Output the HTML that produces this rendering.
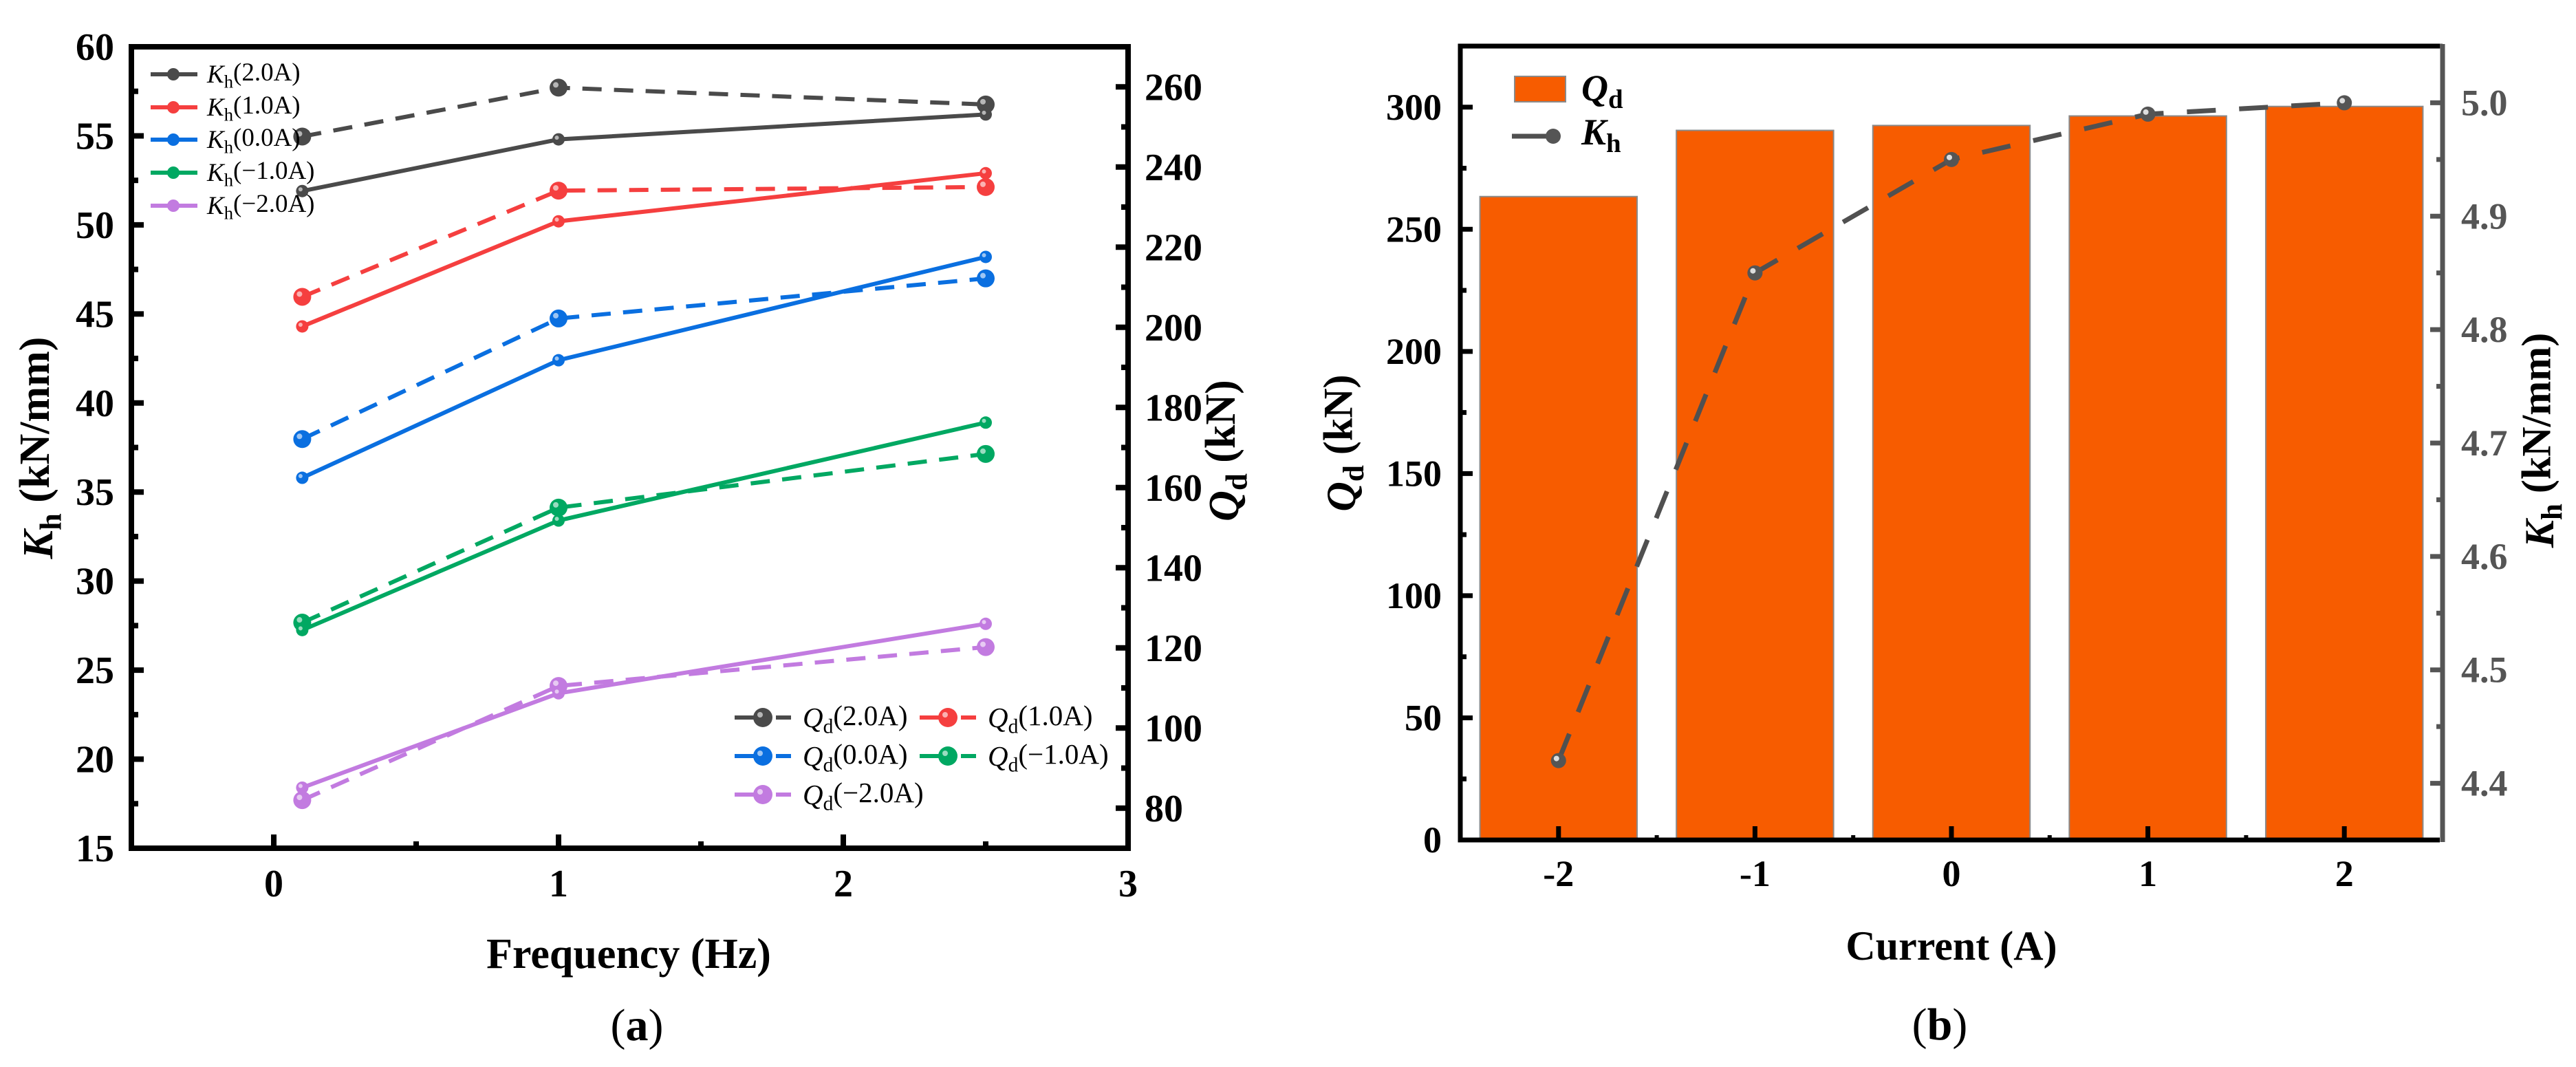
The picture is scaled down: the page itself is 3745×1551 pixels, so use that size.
<!DOCTYPE html>
<html><head><meta charset="utf-8"><style>
html,body{margin:0;padding:0;background:#fff;}
svg{display:block;}
text{font-family:"Liberation Serif",serif;}
</style></head><body>
<svg id="fig" width="3745" height="1551" viewBox="0 0 3745 1551" xmlns="http://www.w3.org/2000/svg">
<g id="pa"></g>
<g id="pb"></g>
</svg>
<script>
// ---------- Panel (a) data ----------
const freqs = [0.1, 1, 2.5];
const seriesNames = ["2.0A", "1.0A", "0.0A", "\u22121.0A", "\u22122.0A"];
const seriesColors = ["#4a4a4a", "#f53f3f", "#0a6fe0", "#00a862", "#c27be0"];
const khValues2 = [51.9, 54.8, 56.2];
const khValues1 = [44.3, 50.2, 52.9];
const khValues0 = [35.8, 42.4, 48.2];
const khValuesM1 = [27.25, 33.4, 38.9];
const khValuesM2 = [18.4, 23.7, 27.6];
const qdValues2 = [247.6, 259.8, 255.6];
const qdValues1 = [207.6, 234.1, 235.0];
const qdValues0 = [172.1, 202.2, 212.2];
const qdValuesM1 = [126.3, 155.0, 168.4];
const qdValuesM2 = [82.0, 110.5, 120.2];
const xTicksA = [0, 1, 2, 3];
const khTicks = [15, 20, 25, 30, 35, 40, 45, 50, 55, 60];
const qdTicksA = [80, 100, 120, 140, 160, 180, 200, 220, 240, 260];
// ---------- Panel (b) data ----------
const currents = ["-2", "-1", "0", "1", "2"];
const qdBars = [263.4, 290.5, 292.5, 296.4, 300.3];
const khLine = [4.42, 4.85, 4.95, 4.99, 5.0];
const qdTicksB = [0, 50, 100, 150, 200, 250, 300];
const khTicksB = [4.4, 4.5, 4.6, 4.7, 4.8, 4.9, 5.0];

const NS = "http://www.w3.org/2000/svg";
function mk(parent, tag, attrs, txt) {
  const e = document.createElementNS(NS, tag);
  for (const k in attrs) e.setAttribute(k, attrs[k]);
  if (txt !== undefined) e.textContent = txt;
  parent.appendChild(e);
  return e;
}
function sub(parent, main, subs, after, attrs, italicMain) {
  const t = mk(parent, "text", attrs);
  mk(t, "tspan", italicMain ? {"font-style": "italic"} : {}, main);
  mk(t, "tspan", {"dy": "0.28em", "font-size": "0.72em"}, subs);
  if (after) mk(t, "tspan", {"dy": "-0.28em"}, after);
  return t;
}

// ================= PANEL A =================
const pa = document.getElementById("pa");
const A = {l: 191, r: 1640, t: 68, b: 1233};
const xA = v => A.l + (v - (-0.5)) / 3.5 * (A.r - A.l);
const yK = v => A.b - (v - 15) / 45 * (A.b - A.t);
const yQ = v => A.b - (v - 70) / 200 * (A.b - A.t);

khTicks.forEach(v => {
  const y = yK(v);
  const tk = mk(pa, "line", {x1: A.l, x2: A.l + 18, y1: y, y2: y, stroke: "#000", "stroke-width": 8});
  
  
  if (v < 60) {
    const mt = mk(pa, "line", {x1: A.l, x2: A.l + 10, y1: yK(v + 2.5), y2: yK(v + 2.5), stroke: "#000", "stroke-width": 8});
    
    
  }
  const lb = mk(pa, "text", {x: 166, y: y + 19, "text-anchor": "end", "font-size": 56, "font-weight": "bold"}, String(v));
  
  
});
qdTicksA.forEach(v => {
  const y = yQ(v);
  const tk = mk(pa, "line", {x1: A.r - 18, x2: A.r, y1: y, y2: y, stroke: "#000", "stroke-width": 8});
  
  
  const mt = mk(pa, "line", {x1: A.r - 10, x2: A.r, y1: yQ(v + 10), y2: yQ(v + 10), stroke: "#000", "stroke-width": 8});
  
  
  const lb = mk(pa, "text", {x: 1664, y: y + 19, "text-anchor": "start", "font-size": 56, "font-weight": "bold"}, String(v));
  
  
});
xTicksA.forEach(v => {
  const x = xA(v);
  const tk = mk(pa, "line", {x1: x, x2: x, y1: A.b, y2: A.b - 20, stroke: "#000", "stroke-width": 8});
  
  
  const mx = xA(v - 0.5);
  const mt = mk(pa, "line", {x1: mx, x2: mx, y1: A.b, y2: A.b - 10, stroke: "#000", "stroke-width": 8});
  
  
  const lb = mk(pa, "text", {x: x, y: 1303, "text-anchor": "middle", "font-size": 56, "font-weight": "bold"}, String(v));
  
  
});

const khAll = [khValues2, khValues1, khValues0, khValuesM1, khValuesM2];
const qdAll = [qdValues2, qdValues1, qdValues0, qdValuesM1, qdValuesM2];
qdAll.forEach((vals, i) => {
  const pts = vals.map((v, j) => xA(freqs[j]) + "," + yQ(v)).join(" ");
  const pl = mk(pa, "polyline", {points: pts, fill: "none", stroke: seriesColors[i], "stroke-width": 6, "stroke-dasharray": "28 18"});
  
  
  vals.forEach((v, j) => {
    const c = mk(pa, "circle", {cx: xA(freqs[j]), cy: yQ(v), r: 13, fill: seriesColors[i]});
    
    
    mk(pa, "circle", {cx: xA(freqs[j]) - 4, cy: yQ(v) - 4, r: 4, fill: "#fff", opacity: 0.6});
  });
});
khAll.forEach((vals, i) => {
  const pts = vals.map((v, j) => xA(freqs[j]) + "," + yK(v)).join(" ");
  const pl = mk(pa, "polyline", {points: pts, fill: "none", stroke: seriesColors[i], "stroke-width": 6});
  
  
  vals.forEach((v, j) => {
    const c = mk(pa, "circle", {cx: xA(freqs[j]), cy: yK(v), r: 9, fill: seriesColors[i]});
    
    
    mk(pa, "circle", {cx: xA(freqs[j]) - 2.5, cy: yK(v) - 2.5, r: 3, fill: "#fff", opacity: 0.6});
  });
});
const fa = mk(pa, "rect", {x: A.l, y: A.t, width: A.r - A.l, height: A.b - A.t, fill: "none", stroke: "#000", "stroke-width": 8});



const legK = mk(pa, "g", {});


const legKy = [108, 156, 203, 251, 299];
seriesNames.forEach((n, i) => {
  const y = legKy[i];
  const g = mk(legK, "g", {});
  
  
  mk(g, "line", {x1: 219, x2: 287, y1: y, y2: y, stroke: seriesColors[i], "stroke-width": 6});
  mk(g, "circle", {cx: 252, cy: y, r: 9, fill: seriesColors[i]});
  sub(g, "K", "h", "(" + n + ")", {x: 301, y: y + 12, "font-size": 37}, true);
});
const legQ = mk(pa, "g", {});


const legQpos = [[1068, 1043], [1337, 1043], [1068, 1099], [1337, 1099], [1068, 1155]];
seriesNames.forEach((n, i) => {
  const [x, y] = legQpos[i];
  const g = mk(legQ, "g", {});
  
  
  mk(g, "line", {x1: x, x2: x + 32, y1: y, y2: y, stroke: seriesColors[i], "stroke-width": 6});
  mk(g, "line", {x1: x + 60, x2: x + 82, y1: y, y2: y, stroke: seriesColors[i], "stroke-width": 6});
  mk(g, "circle", {cx: x + 41, cy: y, r: 14, fill: seriesColors[i]});
  mk(g, "circle", {cx: x + 37, cy: y - 4, r: 4, fill: "#fff", opacity: 0.6});
  sub(g, "Q", "d", "(" + n + ")", {x: x + 99, y: y + 14, "font-size": 41}, true);
});
const tya = mk(pa, "text", {transform: "translate(76,651) rotate(-90)", "text-anchor": "middle", "font-size": 62, "font-weight": "bold"});


mk(tya, "tspan", {"font-style": "italic"}, "K");
mk(tya, "tspan", {dy: "0.28em", "font-size": "0.72em"}, "h");
mk(tya, "tspan", {dy: "-0.28em"}, " (kN/mm)");
const tyb = mk(pa, "text", {transform: "translate(1800,655) rotate(-90)", "text-anchor": "middle", "font-size": 62, "font-weight": "bold"});


mk(tyb, "tspan", {"font-style": "italic"}, "Q");
mk(tyb, "tspan", {dy: "0.28em", "font-size": "0.72em"}, "d");
mk(tyb, "tspan", {dy: "-0.28em"}, " (kN)");
const txa = mk(pa, "text", {x: 914, y: 1407, "text-anchor": "middle", "font-size": 62, "font-weight": "bold"}, "Frequency (Hz)");


const capA = mk(pa, "text", {x: 926, y: 1512, "text-anchor": "middle", "font-size": 66});


mk(capA, "tspan", {}, "(");
mk(capA, "tspan", {"font-weight": "bold"}, "a");
mk(capA, "tspan", {}, ")");

// ================= PANEL B =================
const pb = document.getElementById("pb");
const B = {l: 2123, r: 3551, t: 67, b: 1221};
const slot = (B.r - B.l) / currents.length;
const xB = i => B.l + slot * (i + 0.5);
const yQB = v => B.b - v / 325 * (B.b - B.t);
const yKB = v => B.b - (v - 4.35) / 0.7 * (B.b - B.t);

currents.forEach((c, i) => {
  const bw = slot * 0.8;
  const r = mk(pb, "rect", {x: xB(i) - bw / 2, y: yQB(qdBars[i]), width: bw, height: B.b - yQB(qdBars[i]), fill: "#f75c00", stroke: "#8a8a8a", "stroke-width": 2});
  
  
});
const kpts = khLine.map((v, i) => xB(i) + "," + yKB(v)).join(" ");
const kl = mk(pb, "polyline", {points: kpts, fill: "none", stroke: "#505050", "stroke-width": 7, "stroke-dasharray": "42 34"});


khLine.forEach((v, i) => {
  const c = mk(pb, "circle", {cx: xB(i), cy: yKB(v), r: 11, fill: "#555"});
  
  
  mk(pb, "circle", {cx: xB(i) - 3, cy: yKB(v) - 3, r: 4, fill: "#ddd"});
});
qdTicksB.forEach(v => {
  const y = yQB(v);
  const tk = mk(pb, "line", {x1: B.l, x2: B.l + 18, y1: y, y2: y, stroke: "#000", "stroke-width": 7});
  
  
  const mt = mk(pb, "line", {x1: B.l, x2: B.l + 9, y1: yQB(v + 25), y2: yQB(v + 25), stroke: "#000", "stroke-width": 7});
  
  
  const lb = mk(pb, "text", {x: 2096, y: y + 18, "text-anchor": "end", "font-size": 54, "font-weight": "bold"}, String(v));
  
  
});
khTicksB.forEach(v => {
  const y = yKB(v);
  const tk = mk(pb, "line", {x1: B.r - 18, x2: B.r, y1: y, y2: y, stroke: "#555", "stroke-width": 7});
  
  
  const mt = mk(pb, "line", {x1: B.r - 9, x2: B.r, y1: yKB(v + 0.05), y2: yKB(v + 0.05), stroke: "#555", "stroke-width": 7});
  
  
  const lb = mk(pb, "text", {x: 3578, y: y + 18, "text-anchor": "start", "font-size": 54, "font-weight": "bold", fill: "#555"}, v.toFixed(1));
  
  
});
currents.forEach((c, i) => {
  const x = xB(i);
  const tk = mk(pb, "line", {x1: x, x2: x, y1: B.b, y2: B.b - 20, stroke: "#000", "stroke-width": 7});
  
  
  if (i > 0) {
    const mt = mk(pb, "line", {x1: B.l + slot * i, x2: B.l + slot * i, y1: B.b, y2: B.b - 7, stroke: "#000", "stroke-width": 6});
    
    
  }
  const lb = mk(pb, "text", {x: x, y: 1288, "text-anchor": "middle", "font-size": 54, "font-weight": "bold"}, c);
  
  
});
const f1 = mk(pb, "path", {d: `M${B.r - 4},${B.t} H${B.l} V${B.b} H${B.r - 4}`, fill: "none", stroke: "#000", "stroke-width": 7});


const f2 = mk(pb, "line", {x1: B.r, x2: B.r, y1: B.t - 3, y2: B.b + 3, stroke: "#555", "stroke-width": 7});


const lg = mk(pb, "g", {});


const le1 = mk(lg, "g", {});


mk(le1, "rect", {x: 2202, y: 111, width: 74, height: 37, fill: "#f75c00", stroke: "#8a8a8a", "stroke-width": 2});
sub(le1, "Q", "d", "", {x: 2299, y: 146, "font-size": 54, "font-weight": "bold"}, true);
const le2 = mk(lg, "g", {});


mk(le2, "line", {x1: 2198, x2: 2252, y1: 198, y2: 198, stroke: "#505050", "stroke-width": 7});
mk(le2, "circle", {cx: 2258, cy: 198, r: 11, fill: "#555"});
sub(le2, "K", "h", "", {x: 2299, y: 210, "font-size": 54, "font-weight": "bold"}, true);
const tq = mk(pb, "text", {transform: "translate(1970,644) rotate(-90)", "text-anchor": "middle", "font-size": 60, "font-weight": "bold"});


mk(tq, "tspan", {"font-style": "italic"}, "Q");
mk(tq, "tspan", {dy: "0.28em", "font-size": "0.72em"}, "d");
mk(tq, "tspan", {dy: "-0.28em"}, " (kN)");
const tk2 = mk(pb, "text", {transform: "translate(3712,640) rotate(-90)", "text-anchor": "middle", "font-size": 60, "font-weight": "bold"});


mk(tk2, "tspan", {"font-style": "italic"}, "K");
mk(tk2, "tspan", {dy: "0.28em", "font-size": "0.72em"}, "h");
mk(tk2, "tspan", {dy: "-0.28em"}, " (kN/mm)");
const txb = mk(pb, "text", {x: 2837, y: 1395, "text-anchor": "middle", "font-size": 60, "font-weight": "bold"}, "Current (A)");


const capB = mk(pb, "text", {x: 2820, y: 1511, "text-anchor": "middle", "font-size": 66});


mk(capB, "tspan", {}, "(");
mk(capB, "tspan", {"font-weight": "bold"}, "b");
mk(capB, "tspan", {}, ")");
</script>
</body></html>
